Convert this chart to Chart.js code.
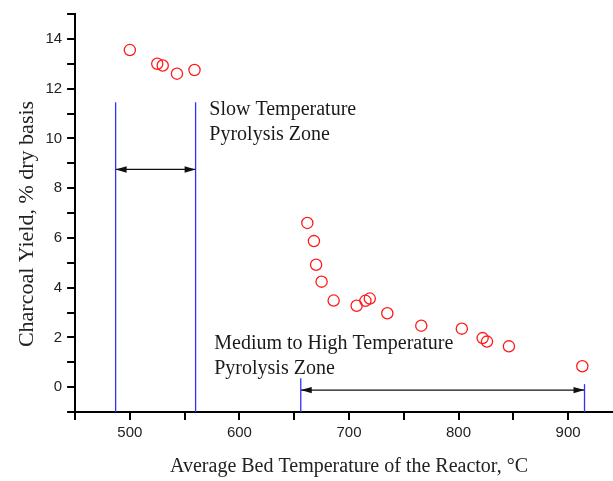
<!DOCTYPE html>
<html>
<head>
<meta charset="utf-8">
<script src="https://cdn.jsdelivr.net/npm/chart.js@4.4.1/dist/chart.umd.min.js"></script>
<style>
    html, body { margin: 0; padding: 0; background: #fff; }
    #wrap { width: 613px; height: 481px; }
</style>
</head>
<body>
<div id="wrap"><canvas id="yieldChart" width="613" height="481"></canvas></div>
<script>
// measured points: bed temperature (°C) vs charcoal yield (% dry basis)
const bedTemps = [500, 525, 530, 543, 559, 662, 668, 670, 675, 686, 707, 715, 719, 735, 766, 803, 822, 826, 846, 913];
const charcoalYield = [13.55, 13.0, 12.93, 12.6, 12.75, 6.6, 5.87, 4.92, 4.24, 3.48, 3.27, 3.47, 3.56, 2.97, 2.47, 2.35, 1.97, 1.83, 1.64, 0.84];

// axis ticks
const xTickValues = [450, 500, 550, 600, 650, 700, 750, 800, 850, 900];
const xTickLabels = [500, 600, 700, 800, 900];
const yTickValues = [-1, 0, 1, 2, 3, 4, 5, 6, 7, 8, 9, 10, 11, 12, 13, 14, 15];
const yTickLabels = [0, 2, 4, 6, 8, 10, 12, 14];

// zone markers
const slowZone = [487, 560];
const slowZoneTops = [11.45, 11.45];
const slowArrowY = 8.75;
const mediumZone = [656, 915];
const mediumZoneTops = [0.36, 0.12];
const mediumArrowY = -0.12;

const zoneNotes = [
    { lines: ['Slow Temperature', 'Pyrolysis Zone'], x: 572.5, y: 10.92 },
    { lines: ['Medium to High Temperature', 'Pyrolysis Zone'], x: 577, y: 1.52 }
];

const blue = '#3030ff';

function boundaryLine(x, top) {
    return {
        type: 'line',
        data: [{ x: x, y: -1 }, { x: x, y: top }],
        showLine: true,
        borderColor: blue,
        borderWidth: 1.3,
        pointRadius: 0,
        clip: false
    };
}

function arrowLine(from, to, y) {
    return {
        type: 'line',
        data: [{ x: from, y: y }, { x: to, y: y }],
        showLine: true,
        borderColor: '#111',
        borderWidth: 1.3,
        pointRadius: 0,
        isArrow: true
    };
}

const points = bedTemps.map((t, i) => ({ x: t, y: charcoalYield[i] }));

const datasets = [
    {
        label: 'Charcoal yield',
        data: points,
        pointStyle: 'circle',
        pointRadius: 5.6,
        pointBorderWidth: 1.3,
        borderColor: '#ff1a1a',
        backgroundColor: 'rgba(0,0,0,0)',
        showLine: false
    },
    boundaryLine(slowZone[0], slowZoneTops[0]),
    boundaryLine(slowZone[1], slowZoneTops[1]),
    boundaryLine(mediumZone[0], mediumZoneTops[0]),
    boundaryLine(mediumZone[1], mediumZoneTops[1]),
    arrowLine(slowZone[0], slowZone[1], slowArrowY),
    arrowLine(mediumZone[0], mediumZone[1], mediumArrowY)
];

// arrow heads + zone text
const zonePlugin = {
    id: 'zonePlugin',
    afterDatasetsDraw(chart) {
        const ctx = chart.ctx;
        const xs = chart.scales.x;
        const ys = chart.scales.y;
        ctx.save();
        ctx.fillStyle = '#111';
        chart.data.datasets.forEach(ds => {
            if (!ds.isArrow) return;
            const y = ys.getPixelForValue(ds.data[0].y);
            const x1 = xs.getPixelForValue(ds.data[0].x);
            const x2 = xs.getPixelForValue(ds.data[1].x);
            [[x1, 1], [x2, -1]].forEach(([x, dir]) => {
                ctx.beginPath();
                ctx.moveTo(x, y);
                ctx.lineTo(x + dir * 11, y - 3.2);
                ctx.lineTo(x + dir * 11, y + 3.2);
                ctx.closePath();
                ctx.fill();
            });
        });

        ctx.fillStyle = '#1a1a1a';
        ctx.font = '20px "Liberation Serif", serif';
        ctx.textBaseline = 'alphabetic';
        ctx.textAlign = 'left';
        zoneNotes.forEach(note => {
            const x = xs.getPixelForValue(note.x);
            const y = ys.getPixelForValue(note.y);
            note.lines.forEach((line, i) => ctx.fillText(line, x, y + i * 25));
        });
        ctx.restore();
    }
};

const tickFont = { family: 'Liberation Sans', size: 15 };

new Chart(document.getElementById('yieldChart'), {
    type: 'scatter',
    data: { datasets: datasets },
    options: {
        responsive: false,
        animation: false,
        devicePixelRatio: 1,
        layout: { autoPadding: false, padding: { left: 9, top: 11, right: 0, bottom: 2 } },
        plugins: {
            legend: { display: false },
            tooltip: { enabled: false }
        },
        scales: {
            x: {
                type: 'linear',
                min: 450,
                max: 941,
                afterBuildTicks: axis => { axis.ticks = xTickValues.map(v => ({ value: v })); },
                ticks: {
                    callback: v => xTickLabels.includes(v) ? String(v) : '',
                    font: tickFont,
                    color: '#222',
                    padding: 4,
                    maxRotation: 0,
                    autoSkip: false
                },
                grid: { display: true, drawOnChartArea: false, drawTicks: true, tickLength: 8, color: '#000', lineWidth: 2 },
                border: { display: true, color: '#000', width: 2 },
                title: { display: true, text: '\u00a0\u00a0Average Bed Temperature of the Reactor, °C', font: { family: 'Liberation Serif', size: 20 }, color: '#222', padding: { top: 9, bottom: 0 } }
            },
            y: {
                type: 'linear',
                min: -1,
                max: 15,
                afterBuildTicks: axis => { axis.ticks = yTickValues.map(v => ({ value: v })); },
                ticks: {
                    callback: v => yTickLabels.includes(v) ? String(v) : '',
                    font: tickFont,
                    color: '#222',
                    padding: 5,
                    autoSkip: false
                },
                grid: { display: true, drawOnChartArea: false, drawTicks: true, tickLength: 8, color: '#000', lineWidth: 2 },
                border: { display: true, color: '#000', width: 2 },
                title: { display: true, text: 'Charcoal Yield, % dry basis\u00a0\u00a0\u00a0\u00a0', font: { family: 'Liberation Serif', size: 22 }, color: '#222', padding: { top: 5, bottom: 0 } }
            }
        }
    },
    plugins: [zonePlugin]
});
</script>
</body>
</html>
